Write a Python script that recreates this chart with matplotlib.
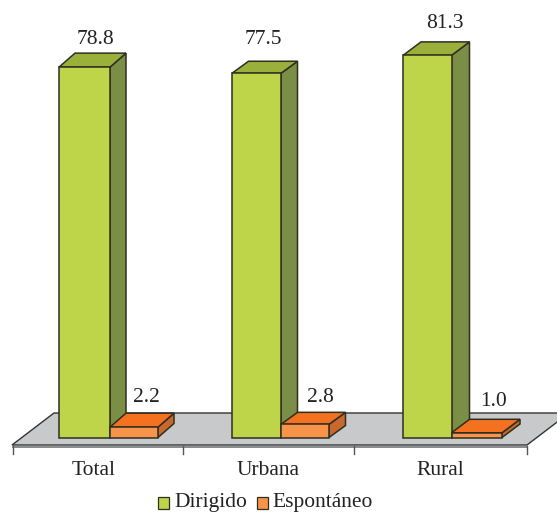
import matplotlib
matplotlib.use("Agg")
import matplotlib.pyplot as plt
from matplotlib.patches import Polygon, Rectangle

categories = ["Total", "Urbana", "Rural"]
dirigido = [78.8, 77.5, 81.3]
espontaneo = [2.2, 2.8, 1.0]
value_labels_d = ["78.8", "77.5", "81.3"]
value_labels_e = ["2.2", "2.8", "1.0"]

W, H = 557, 512
BASE = 437.5
PX = 4.70
FS = 15.5
plt.rcParams["font.family"] = ["Liberation Serif", "DejaVu Serif"]
fig = plt.figure(figsize=(W / 100, H / 100), dpi=100)
ax = fig.add_axes([0, 0, 1, 1])
ax.set_xlim(0, W)
ax.set_ylim((BASE - H) / PX, BASE / PX)
ax.axis("off")

def yp(p):
    return (BASE - p) / PX

EDGE = "#2e2e22"
TEXT = "#222222"
# floor
ax.add_patch(Polygon([(12, yp(445)), (527, yp(445)), (569, yp(413)), (54, yp(413))],
                     fc="#c8c9cb", ec="#333333", lw=1.0, zorder=1))
ax.plot([13, 527], [yp(446.5)] * 2, color="#777777", lw=1.2, zorder=1)
for tx in [13, 183, 354, 527]:
    ax.plot([tx, tx], [yp(446), yp(454)], color="#555555", lw=1.0, zorder=1)


def bar3d(x0, x1, v, dx, dy, front, top, side, z):
    h = v
    d = dy / PX
    ax.add_patch(Polygon([(x1, 0), (x1 + dx, d), (x1 + dx, h + d), (x1, h)],
                         fc=side, ec=EDGE, lw=1.1, zorder=z))
    ax.add_patch(Polygon([(x0, h), (x1, h), (x1 + dx, h + d), (x0 + dx, h + d)],
                         fc=top, ec=EDGE, lw=1.1, zorder=z))
    ax.bar((x0 + x1) / 2, h, width=x1 - x0, color=front, edgecolor=EDGE, lw=1.1, zorder=z + 0.1)


green_x = [(59, 110), (232, 281), (403, 451.5)]
orange_x = [(110, 158), (281, 329), (451.5, 502)]
depth = [(16, 14), (16.5, 12), (18, 13.5)]
d_label_pos = [(96, 40), (263.5, 40), (445, 23)]
e_label_pos = [(146.5, 397), (320, 397), (494, 401)]
cat_x = [94, 268, 440]

for i in range(3):
    dx, dy = depth[i]
    bar3d(*green_x[i], dirigido[i], dx, dy, "#bed449", "#9bb03a", "#7a8f45", 3)
    bar3d(*orange_x[i], espontaneo[i], dx, dy, "#f7944a", "#f4711f", "#c9682c", 4)
    px, py = d_label_pos[i]
    ax.text(px, yp(py), value_labels_d[i], ha="center", va="center", fontsize=FS, color=TEXT)
    px, py = e_label_pos[i]
    ax.text(px, yp(py), value_labels_e[i], ha="center", va="center", fontsize=FS, color=TEXT)
    ax.text(cat_x[i], yp(470.5), categories[i], ha="center", va="center", fontsize=FS, color=TEXT)

# legend
for sx, label, col, tx in [(158, "Dirigido", "#bed449", 174), (257, "Espontáneo", "#f7944a", 272)]:
    ax.add_patch(Rectangle((sx, yp(509)), 10.5, 12.5 / PX, fc=col, ec=EDGE, lw=0.9, zorder=3))
    ax.text(tx, yp(503), label, ha="left", va="center", fontsize=FS, color=TEXT)

fig.savefig("out.png", dpi=100)
